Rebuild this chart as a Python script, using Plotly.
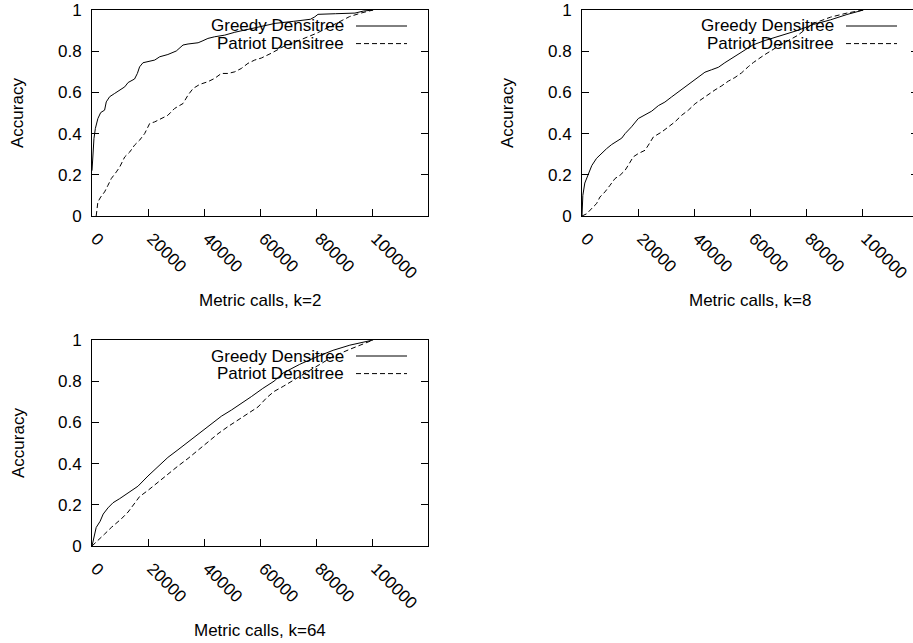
import plotly.graph_objects as go

# ---------------- data ----------------
x_ticks = [0, 20000, 40000, 60000, 80000, 100000]
x_tick_labels = ["0", "20000", "40000", "60000", "80000", "100000"]
y_ticks = [0, 0.2, 0.4, 0.6, 0.8, 1.0]
y_tick_labels = ["0", "0.2", "0.4", "0.6", "0.8", "1"]

series_names = ["Greedy Densitree", "Patriot Densitree"]
panel_titles = ["Metric calls, k=2", "Metric calls, k=8", "Metric calls, k=64"]

k2_greedy_x = [0, 240, 700, 1200, 2100, 3100, 4500, 5100, 6300, 8100, 9900, 11700, 12900, 14000,
               15200, 16200, 17000, 18200, 20000, 22400, 24200, 27100, 30100, 31300, 32500, 34300,
               37900, 39300, 41400, 43800, 47400, 51000, 54500, 58100, 61000, 65400, 72000, 78000,
               79600, 80700, 87000, 93900, 97000, 100400]
k2_greedy_y = [0.22, 0.28, 0.376, 0.425, 0.473, 0.502, 0.514, 0.554, 0.579, 0.595, 0.611, 0.627,
               0.648, 0.655, 0.665, 0.692, 0.724, 0.744, 0.749, 0.757, 0.773, 0.784, 0.801, 0.814,
               0.830, 0.835, 0.841, 0.849, 0.862, 0.870, 0.878, 0.892, 0.902, 0.912, 0.92, 0.935,
               0.945, 0.955, 0.967, 0.979, 0.982, 0.985, 0.995, 1.0]

k2_patriot_x = [1500, 2100, 3100, 4500, 5700, 6900, 8700, 9900, 11700, 13500, 15200, 17000, 18800,
                20600, 22400, 24800, 27100, 29500, 32500, 34300, 36100, 38500, 41400, 43800, 46200,
                48600, 51000, 53300, 55700, 58100, 60500, 64000, 68300, 74250, 80200, 86100, 92000,
                96000, 100400]
k2_patriot_y = [0.0, 0.068, 0.092, 0.117, 0.149, 0.182, 0.214, 0.238, 0.287, 0.311, 0.344, 0.368,
                0.400, 0.449, 0.457, 0.473, 0.489, 0.522, 0.546, 0.587, 0.619, 0.639, 0.652, 0.668,
                0.692, 0.692, 0.700, 0.716, 0.741, 0.757, 0.767, 0.79, 0.822, 0.854, 0.887, 0.927,
                0.968, 0.985, 1.0]

k8_greedy_x = [0, 300, 1000, 2300, 3500, 5200, 7000, 8800, 10600, 13000, 14200, 15400, 17700, 20100,
               22500, 24900, 27300, 29600, 32000, 34400, 36800, 39200, 41500, 43900, 46300, 48700,
               51000, 53500, 55800, 58000, 61000, 64900, 70800, 76800, 82700, 88700, 94600, 100500]
k8_greedy_y = [0.0, 0.1, 0.16, 0.2, 0.245, 0.28, 0.305, 0.327, 0.347, 0.368, 0.378, 0.4, 0.433,
               0.473, 0.489, 0.509, 0.536, 0.553, 0.578, 0.603, 0.627, 0.652, 0.676, 0.698, 0.71,
               0.722, 0.744, 0.765, 0.785, 0.805, 0.83, 0.85, 0.876, 0.9, 0.93, 0.952, 0.978, 1.0]

k8_patriot_x = [0, 1700, 4000, 5200, 6400, 8200, 10000, 11800, 13600, 15400, 16500, 18300, 20100,
                22500, 23700, 25500, 28500, 30800, 33200, 35600, 38000, 40400, 42700, 45100, 47500,
                49900, 52300, 54600, 57000, 59400, 61200, 64900, 70800, 76800, 82700, 88700, 94600,
                100500]
k8_patriot_y = [0, 0.011, 0.044, 0.06, 0.092, 0.117, 0.149, 0.182, 0.198, 0.222, 0.246, 0.287,
                0.303, 0.319, 0.344, 0.384, 0.408, 0.433, 0.457, 0.489, 0.514, 0.545, 0.568, 0.59,
                0.612, 0.632, 0.655, 0.672, 0.695, 0.725, 0.745, 0.78, 0.83, 0.875, 0.935, 0.965,
                0.985, 1.0]

k64_greedy_x = [0, 700, 1500, 2900, 4000, 5700, 7500, 9900, 12800, 16400, 20000, 23600, 27100,
                30700, 34300, 37900, 40200, 43800, 46200, 49800, 53300, 56900, 61000, 65000, 68300,
                74200, 80200, 86100, 92100, 100400]
k64_greedy_y = [0, 0.05, 0.09, 0.12, 0.155, 0.185, 0.21, 0.23, 0.255, 0.29, 0.34, 0.384, 0.43,
                0.467, 0.505, 0.54, 0.565, 0.605, 0.63, 0.66, 0.69, 0.725, 0.765, 0.8, 0.84, 0.882,
                0.918, 0.95, 0.975, 1.0]

k64_patriot_x = [0, 2100, 4500, 6900, 10500, 12900, 15200, 17000, 20000, 23600, 27100, 30700, 34300,
                 37900, 41400, 45000, 48600, 52100, 55700, 59300, 62400, 65000, 68300, 71900, 80200,
                 86100, 92100, 100400]
k64_patriot_y = [0, 0.025, 0.058, 0.09, 0.132, 0.165, 0.205, 0.24, 0.27, 0.31, 0.35, 0.388, 0.425,
                 0.465, 0.505, 0.545, 0.58, 0.612, 0.643, 0.675, 0.72, 0.75, 0.775, 0.805, 0.875,
                 0.92, 0.955, 1.0]

# ---------------- layout helpers ----------------
W, H = 913, 643
OFFX, OFFY = 8, 0   # page body margin set below to 0 top / 8px left
FONT = "Liberation Sans, Arial, Helvetica, sans-serif"
FS = 17


def px(x):
    """window pixel x -> paper fraction"""
    return (x - OFFX) / W


def py(y):
    """window pixel y -> paper fraction"""
    return 1 - (y - OFFY) / H


# plot boxes in window pixels: (left, top, right, bottom)
boxes = [(92, 10, 428, 216), (582, 10, 918, 216), (92, 340, 428, 546)]

fig = go.Figure()

panels = [
    (k2_greedy_x, k2_greedy_y, k2_patriot_x, k2_patriot_y),
    (k8_greedy_x, k8_greedy_y, k8_patriot_x, k8_patriot_y),
    (k64_greedy_x, k64_greedy_y, k64_patriot_x, k64_patriot_y),
]

annotations = []
shapes = []

for i, (gx, gy, pxs, pys) in enumerate(panels):
    sfx = "" if i == 0 else str(i + 1)
    xa, ya = "x" + sfx, "y" + sfx
    fig.add_trace(go.Scatter(x=gx, y=gy, mode="lines", name=series_names[0],
                             line=dict(color="black", width=1), xaxis=xa, yaxis=ya,
                             showlegend=False))
    fig.add_trace(go.Scatter(x=pxs, y=pys, mode="lines", name=series_names[1],
                             line=dict(color="black", width=1, dash="5px,3px"), xaxis=xa, yaxis=ya,
                             showlegend=False))

    l, t, r, b = boxes[i]
    fig.layout["xaxis" + sfx] = dict(
        domain=[px(l), px(r)], anchor=ya, range=[0, 120000], automargin=False,
        tickmode="array", tickvals=x_ticks, ticktext=x_tick_labels, tickangle=45,
        ticks="inside", ticklen=7, tickcolor="black", showline=True, linecolor="black",
        linewidth=1, mirror=True, showgrid=False, zeroline=False,
        ticklabelstandoff=5, ticklabelshift=4, ticklabeloverflow="allow",
        tickfont=dict(family=FONT, size=FS, color="black"),
    )
    fig.layout["yaxis" + sfx] = dict(
        domain=[py(b), py(t)], anchor=xa, range=[0, 1], automargin=False,
        tickmode="array", tickvals=y_ticks, ticktext=y_tick_labels,
        ticks="inside", ticklen=7, tickcolor="black", showline=True, linecolor="black",
        linewidth=1, mirror="ticks", showgrid=False, zeroline=False,
        ticklabelstandoff=6, ticklabeloverflow="allow",
        tickfont=dict(family=FONT, size=FS, color="black"),
    )

    # axis titles
    annotations.append(dict(text=panel_titles[i], xref="paper", yref="paper",
                            x=px((l + r) / 2), y=py(b + 84), xanchor="center", yanchor="middle",
                            showarrow=False, font=dict(family=FONT, size=FS, color="black")))
    annotations.append(dict(text="Accuracy", xref="paper", yref="paper", textangle=-90,
                            x=px(l - 74), y=py((t + b) / 2), xanchor="center", yanchor="middle",
                            showarrow=False, font=dict(family=FONT, size=FS, color="black")))

    # legend (gnuplot style: text then sample)
    for j, name in enumerate(series_names):
        yrow = t + 16 + j * 17.6
        annotations.append(dict(text=name, xref="paper", yref="paper",
                                x=px(l + 254), y=py(yrow), xanchor="right", yanchor="middle",
                                showarrow=False,
                                font=dict(family=FONT, size=FS, color="black")))
        shapes.append(dict(type="line", xref="paper", yref="paper",
                           x0=px(l + 264), x1=px(l + 315), y0=py(yrow), y1=py(yrow),
                           line=dict(color="black", width=1,
                                     dash=("solid" if j == 0 else "5px,3px"))))

fig.update_layout(
    width=W, height=H, autosize=False,
    margin=dict(l=0, r=0, t=0, b=0, pad=0, autoexpand=False),
    paper_bgcolor="white", plot_bgcolor="white",
    showlegend=False,
    annotations=annotations, shapes=shapes,
    font=dict(family=FONT, size=FS, color="black"),
)

fig.write_html("out.html", post_script="document.body.style.margin='0px 0px 0px 8px';")
